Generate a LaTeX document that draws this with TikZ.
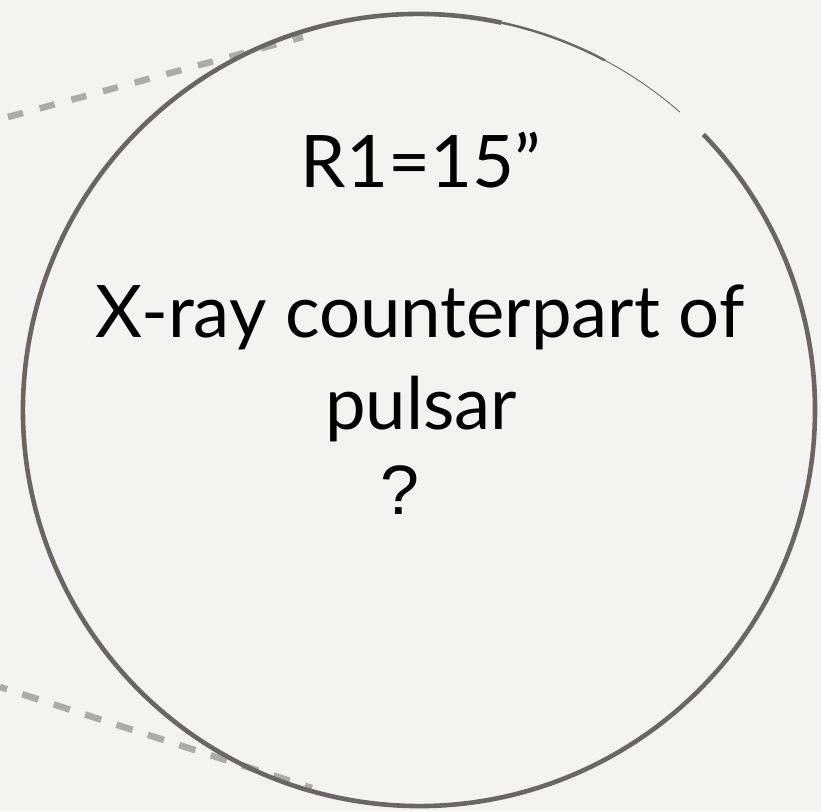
\documentclass[tikz,border=0pt]{standalone}
\usepackage{fontspec}
\setmainfont{Lato}
\newfontfamily\qfont{Liberation Sans}
\definecolor{paper}{HTML}{F3F3F2}
\definecolor{rim}{HTML}{6A6762}
\definecolor{guide}{HTML}{ABABAB}
\tikzset{
  label text/.style={inner sep=0pt, anchor=base, font=\fontsize{72.5}{87}\selectfont},
  guide line/.style={draw=guide, line width=6.5pt},
}

\begin{document}
\begin{tikzpicture}[x=1pt, y=1pt]
        \fill[paper] (0,0) rectangle (821,811);
        \useasboundingbox (0,0) rectangle (821,811);
        % dashed guides from the left
        \coordinate (topA) at (8,694);
        \coordinate (topB) at (303,774);
        \coordinate (botA) at (0,124);
        \coordinate (botB) at (312,23);
        \draw[guide line, dash pattern=on 15.5pt off 17.3pt] (topA) -- (topB);
        \draw[guide line, dash pattern=on 17pt off 16pt, dash phase=9.6pt] (botA) -- (botB);
        % the circle, with its small break at the upper right
        \coordinate (ctr) at (419,401);
        \draw[rim, line width=4.6pt] ([shift={(78:396)}]ctr) arc[start angle=78, end angle=404.1, radius=396];
        \draw[rim, line width=2.4pt] ([shift={(78:396)}]ctr) arc[start angle=78, end angle=62, radius=396];
        \draw[rim, line width=0.9pt] ([shift={(62:396)}]ctr) arc[start angle=62, end angle=48.8, radius=396];
        % texts
        \node[label text] (radius) at (421,623) {R1=15”};
        \node[label text] (desc) at (420,473) {X-ray counterpart of};
        \node[label text] (pulsar) at (421,381) {pulsar};
        \node[inner sep=0pt, anchor=base, font=\qfont\fontsize{70}{84}\selectfont] (query) at (400,296) {?};
    \end{tikzpicture}
\end{document}
